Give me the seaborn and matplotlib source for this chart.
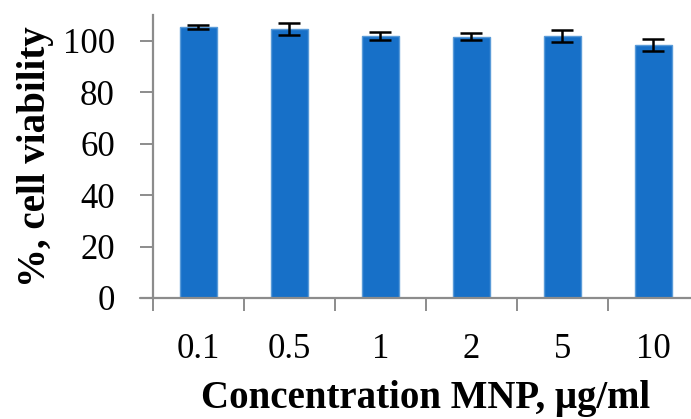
import numpy as np
import pandas as pd
import matplotlib
matplotlib.use("Agg")
import matplotlib.pyplot as plt
import seaborn as sns

concentrations = ["0.1", "0.5", "1", "2", "5", "10"]
viability = [105.3, 104.5, 101.9, 101.6, 101.8, 98.3]
errors = [0.8, 2.3, 1.5, 1.3, 2.4, 2.4]

sns.set_style("white")
plt.rcParams["font.family"] = ["Liberation Serif", "DejaVu Serif"]
plt.rcParams["text.color"] = "black"
plt.rcParams["axes.labelcolor"] = "black"
plt.rcParams["xtick.color"] = "black"
plt.rcParams["ytick.color"] = "black"

df = pd.DataFrame({"conc": concentrations, "viab": viability})

fig = plt.figure(figsize=(6.91, 4.19), dpi=100)
ax = fig.add_axes([0.2214, 0.2888, 0.790, 0.6754])

sns.barplot(data=df, x="conc", y="viab", color="#1770c8", width=0.4,
            edgecolor="#5a9bd8", linewidth=1.0, saturation=1, ax=ax)
ax.errorbar(np.arange(len(concentrations)), viability, yerr=errors, fmt="none",
            ecolor="black", elinewidth=1.8, capsize=8, capthick=1.8)

ax.set_xlim(-0.5, 5.5)
ax.set_ylim(0, 110)
ax.set_yticks([0, 20, 40, 60, 80, 100])

gray = "#8c8c8c"
for s in ["top", "right"]:
    ax.spines[s].set_visible(False)
ax.spines["left"].set_color(gray)
ax.spines["left"].set_linewidth(1.6)
ax.spines["bottom"].set_visible(False)
ax.plot([-0.64, 5.5], [0, 0], color=gray, lw=1.6, clip_on=False, zorder=5)

ax.tick_params(axis="y", which="major", direction="out", length=9.5, width=1.4,
               color=gray, labelcolor="black", labelsize=25, pad=18, left=True)
ax.set_xticks(np.arange(len(concentrations)))
ax.set_xticklabels(concentrations)
ax.set_xticks(np.arange(len(concentrations) + 1) - 0.5, minor=True)
ax.tick_params(axis="x", which="major", length=0, labelsize=25, pad=25,
               labelcolor="black")
ax.tick_params(axis="x", which="minor", direction="out", length=9, width=1.4,
               color=gray, bottom=True)

ax.set_xlabel("Concentration MNP, μg/ml", fontsize=28, fontweight="bold",
              labelpad=10, color="black")
ax.set_ylabel("%, cell viability", fontsize=28, fontweight="bold",
              labelpad=6, color="black")

fig.savefig("out.png", dpi=100)
